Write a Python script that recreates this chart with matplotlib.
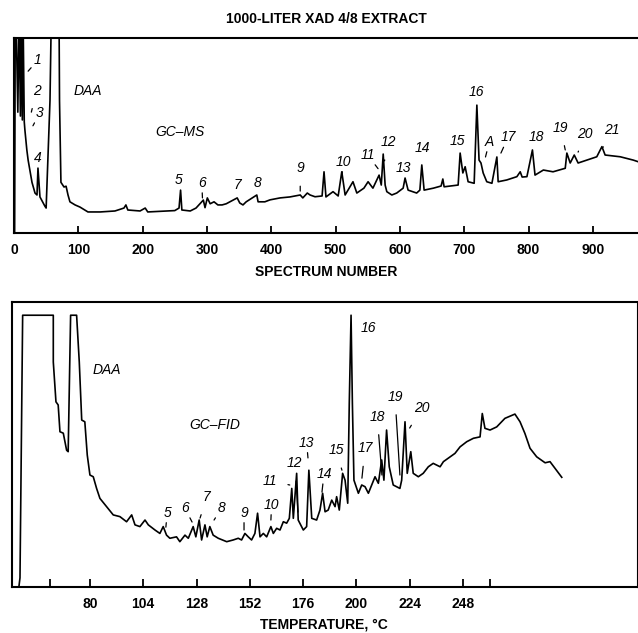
import matplotlib
matplotlib.use('Agg')
import matplotlib.pyplot as plt

plt.rcParams['font.family'] = ['Liberation Sans', 'DejaVu Sans']

# GC-MS trace (spectrum number, relative response)
ms_x = [1, 2, 3, 6, 8, 10, 11, 13, 14, 16, 17, 20, 22, 28, 32.7, 35.8, 37.3, 40.4,
        48, 50, 56, 57.5, 58, 69, 70, 70.8, 73, 77.8, 81, 84, 87, 95, 102.6, 115, 134,
        157, 171, 174, 177, 196, 204, 208, 250, 256.6, 259, 261, 274, 283, 294.4, 297,
        300.6, 305, 311, 317, 323.5, 330, 347, 351, 356, 361, 377.5, 379.5, 390, 398,
        413.7, 429, 445, 449, 456, 460.3, 468, 479, 482, 485, 496, 504, 509.6, 514.8,
        527, 533, 544, 550.5, 558, 567.6, 571, 574, 577, 579.6, 587.4, 595, 605, 608,
        612.7, 626, 631, 634, 637.6, 652, 664, 666.7, 668.7, 690.5, 693.6, 697.8, 701.4,
        706, 715.4, 719.6, 723, 726, 729.4, 735, 743, 750.7, 752.7, 766, 781.8, 787, 790,
        797.4, 806, 810, 823, 838, 857, 859.5, 864.7, 871, 877, 890.7, 906, 914, 919,
        942.5, 962.7, 970]
ms_y = [0, 115, 115, 62, 115, 60, 115, 58, 115, 57, 52.8, 42.6, 37.4, 26, 20.5,
        19.5, 33.3, 18.5, 13.8, 12.8, 68, 100, 115, 115, 115, 68, 26, 23.6, 24, 19.5, 16,
        14.4, 13.3, 10.8, 10.8, 11.3, 12.8, 14.4, 11.8, 11.3, 12.8, 10.8, 11.5, 12.8, 22,
        11.8, 11.3, 12.8, 16.9, 13, 18, 15, 16, 14.4, 14.4, 15, 18, 15.4, 14.4, 16, 19.5,
        16, 16, 17, 18, 18.5, 19.5, 18, 20.5, 19.5, 18.6, 19, 31.4, 18.5, 21.2, 19, 31.4,
        19.5, 26.3, 20.5, 23, 26.3, 23, 29.7, 24.6, 40.5, 24.6, 21.2, 19.5, 20.5, 23, 28.2,
        22, 20.5, 22, 34.9, 22, 23, 24.1, 27.7, 23.7, 24.6, 41, 30.8, 34, 26.3, 25.5, 65.6,
        37.4, 35.9, 30.8, 26.3, 25.5, 39, 26.3, 27.2, 28.9, 31.4, 28.7, 28.9, 42.6, 29.7,
        32.3, 31.4, 33.2, 41, 35.9, 40, 35.9, 37.4, 39.1, 44.3, 40, 39.1, 37.4, 36.6]

# GC-FID trace (temperature in degC, relative response)
fid_x = [48.0, 48.5, 49.7, 63.5, 63.5, 64.7, 65.7, 66.5, 68, 69.5, 70.2, 71.3, 74, 75.2,
         76.3, 77.7, 78.8, 80, 81.5, 83, 84.5, 87.5, 90.5, 93.5, 96.5, 98.8, 100.3, 102.5,
         104.8, 106.3, 109.3, 111.5, 113, 114.5, 116, 119, 120.5, 122.8, 124.3, 126.5,
         127.7, 129.2, 130.3, 131.8, 132.8, 134, 135.5, 137.8, 141.6, 144.5, 146.8, 148.3,
         149.8, 151.3, 152.8, 154.3, 155.5, 156.6, 158.1, 159.6, 161.5, 162.6, 164.1,
         165.6, 167.1, 168.6, 169.8, 170.9, 171.6, 173.1, 173.8, 176.1, 177.6, 178.6,
         179.9, 182.1, 183.6, 184.8, 185.9, 187.3, 188.9, 190.4, 191.1, 192.3, 193.8,
         194.9, 196.1, 196.8, 197.6, 198.2, 198.9, 200.9, 202.4, 203.9, 205.4, 206.9,
         208.4, 209.9, 211.4, 212.4, 213.6, 214.8, 216.6, 219.6, 220.4, 221.9, 222.9,
         224.5, 225.6, 227.9, 230.1, 232.4, 234.6, 237.7, 239.2, 242.2, 244.4, 246.7,
         249.7, 252.7, 255.7, 256.7, 257.9, 260.2, 263.2, 266.9, 271.4, 273.7, 275.9,
         278.2, 281.2, 285, 287.2, 289.5, 292.5]
fid_y = [0, 3.2, 95.4, 95.4, 79, 65, 63.9, 54.5, 54, 48, 47.5, 95.4, 95.4, 79, 58.6, 58,
         46.3, 39.3, 38.7, 34.6, 31.1, 28.2, 25.3, 24.7, 22.9, 25.3, 21.8, 21.2, 23.5,
         21.8, 20, 18.8, 21.2, 18.2, 17.1, 17.6, 15.9, 18.2, 17.1, 21.2, 17.6, 23.5, 16.5,
         21.8, 17.6, 21.2, 18.2, 17.1, 15.9, 16.5, 17.1, 16.5, 18.8, 17.6, 16.5, 18.8,
         25.9, 17.6, 18.8, 17.6, 21.2, 18.8, 20.6, 20, 22.9, 22.4, 24.1, 34.6, 24.1, 39.9,
         23.5, 20, 21.2, 41, 24.1, 23.5, 27, 32.9, 26.4, 27, 30.5, 28.2, 31.7, 27, 39.9,
         37.5, 29.4, 64.5, 95.4, 64.5, 37.5, 32.9, 35.8, 35.2, 32.9, 35.8, 38.7, 36.4,
         44.6, 37.5, 55.1, 42.2, 35.8, 34.6, 37.5, 58, 39.9, 47.5, 39.9, 38.7, 39.9, 42.2,
         43.4, 42.2, 44, 45.7, 46.9, 49.2, 51, 52.2, 52.7, 60.9, 55.7, 55.1, 56.2, 59.2,
         60.7, 58, 53.9, 48.7, 45.7, 43.6, 44, 41.6, 38.5]

ms_ticks = [0, 100, 200, 300, 400, 500, 600, 700, 800, 900]
fid_ticks = [62, 80, 104, 128, 152, 176, 200, 224, 248, 260]
fid_ticklabels = ['', '80', '104', '128', '152', '176', '200', '224', '248', '']

# peak labels: text, label x, label y, leader end x, leader end y (None = no leader)
ms_labels = [('1', 37, 88.7, 22, 83), ('2', 35, 73, 27, 62), ('3', 40, 61.5, 29.5, 55),
             ('4', 37, 38.5, None, None), ('5', 256.6, 27, None, None),
             ('6', 292, 25.6, 293, 18), ('7', 348, 24.6, None, None),
             ('8', 378, 25.6, None, None), ('9', 445, 33.3, 445, 21.5),
             ('10', 512, 36.4, 510, 30), ('11', 550, 40, 566, 33),
             ('12', 582, 46.7, 576, 37), ('13', 605, 33.3, None, None),
             ('14', 635.6, 43.6, None, None), ('15', 690, 47, None, None),
             ('16', 719.6, 72.3, None, None), ('A', 739, 46.7, 733, 39),
             ('17', 768, 49, 757, 41), ('18', 812, 49, None, None),
             ('19', 850, 54, 857, 42.6), ('20', 888, 51, 877, 41.5),
             ('21', 930, 53, 916, 44)]
fid_labels = [('5', 114.8, 26, 114.2, 21), ('6', 122.8, 27.7, 126, 22.8),
              ('7', 132.6, 31.6, 129.6, 24.2), ('8', 139.3, 27.7, 135.9, 23.5),
              ('9', 149.4, 26, 149.4, 20), ('10', 161.8, 28.8, 161.5, 23.5),
              ('11', 161, 37.3, 170, 35.8), ('12', 172.3, 43.5, 173.7, 26.3),
              ('13', 177.6, 50.6, 178.2, 45.3), ('14', 185.4, 39.6, 184.5, 33.3),
              ('15', 190.8, 48, 193.5, 41), ('16', 205.4, 90.8, None, None),
              ('17', 203.9, 48.7, 202.5, 38.2), ('18', 209.4, 59.8, 211.5, 39.3),
              ('19', 217.4, 66.8, 219.6, 39.3), ('20', 229.4, 62.7, 224, 55.8)]

fig = plt.figure(figsize=(6.38, 6.33), dpi=100)

def put_labels(ax, labels):
    for t, lx, ly, ex, ey in labels:
        if ex is None:
            ax.text(lx, ly, t, style='italic', fontsize=10, ha='center', va='center')
        else:
            ax.annotate(t, xy=(ex, ey), xytext=(lx, ly), style='italic', fontsize=10,
                        ha='center', va='center',
                        arrowprops=dict(arrowstyle='-', lw=0.9, color='black',
                                        shrinkA=6, shrinkB=0))

# top: GC-MS
ax1 = fig.add_axes([0.0219, 0.6319, 0.978, 0.308])
ax1.plot(ms_x, ms_y, color='black', lw=1.2)
ax1.set_xlim(0, 970)
ax1.set_ylim(0, 100)
ax1.set_yticks([])
ax1.set_xticks(ms_ticks)
ax1.tick_params(axis='x', direction='in', length=5, width=1.3, pad=7, labelsize=10)
for lab in ax1.get_xticklabels():
    lab.set_fontweight('bold')
ax1.spines['right'].set_visible(False)
for s in ['left', 'top', 'bottom']:
    ax1.spines[s].set_linewidth(1.5)
ax1.set_xlabel('SPECTRUM NUMBER', fontsize=10, fontweight='bold', labelpad=6)
ax1.set_title('1000-LITER XAD 4/8 EXTRACT', fontsize=10, fontweight='bold', pad=11)
ax1.text(115, 73, 'DAA', style='italic', fontsize=10, ha='center', va='center')
ax1.text(258, 52, 'GC–MS', style='italic', fontsize=10, ha='center', va='center')
put_labels(ax1, ms_labels)

# bottom: GC-FID
ax2 = fig.add_axes([0.0188, 0.0727, 0.979, 0.450])
ax2.plot(fid_x, fid_y, color='black', lw=1.2)
ax2.set_xlim(44.9, 326.2)
ax2.set_ylim(0, 100)
ax2.set_yticks([])
ax2.set_xticks(fid_ticks)
ax2.set_xticklabels(fid_ticklabels)
ax2.tick_params(axis='x', direction='in', length=6, width=1.3, pad=7, labelsize=10)
for lab in ax2.get_xticklabels():
    lab.set_fontweight('bold')
for s in ['left', 'top', 'bottom']:
    ax2.spines[s].set_linewidth(1.5)
ax2.spines['right'].set_linewidth(0.8)
ax2.set_xlabel('TEMPERATURE, °C', fontsize=10, fontweight='bold', labelpad=5)
ax2.text(87.7, 76, 'DAA', style='italic', fontsize=10, ha='center', va='center')
ax2.text(136.3, 57, 'GC–FID', style='italic', fontsize=10, ha='center', va='center')
put_labels(ax2, fid_labels)

fig.savefig('out.png', dpi=100)
